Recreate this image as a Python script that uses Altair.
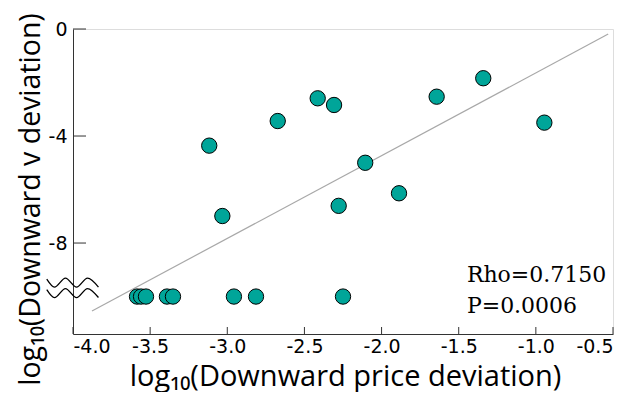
import altair as alt
import pandas as pd

# ---- data ----
x_vals = [-3.117, -2.673, -2.414, -2.308, -2.106, -2.278, -3.032, -1.341, -1.643, -0.945, -1.887,
          -3.585, -3.559, -3.527, -3.391, -3.352, -2.957, -2.814, -2.250]
y_vals = [-4.36, -3.44, -2.59, -2.84, -5.00, -6.61, -6.99, -1.84, -2.53, -3.50, -6.14,
          -10, -10, -10, -10, -10, -10, -10, -10]
fit_x = [-3.877, -0.531]
fit_y = [-10.54, -0.19]
x_ticks = [-4.0, -3.5, -3.0, -2.5, -2.0, -1.5, -1.0, -0.5]
y_ticks = [0, -4, -8]
stats = ["Rho=0.7150", "P=0.0006"]
# axis-break squiggle (decoration)
wave_x = [-4.170, -4.120, -4.049, -3.977, -3.906, -3.835]
wave_dy = [0.13, -0.168, 0.168, -0.168, 0.168, -0.168]
break_levels = [-9.477, -9.869]

pts = pd.DataFrame({"x": x_vals, "y": y_vals})
fit = pd.DataFrame({"x": fit_x, "y": fit_y})
xt = pd.DataFrame({"v": x_ticks})
yt = pd.DataFrame({"v": y_ticks})
wave = pd.DataFrame(
    [{"x": wx, "y": lvl + dy, "g": i} for i, lvl in enumerate(break_levels)
     for wx, dy in zip(wave_x, wave_dy)]
)

W, H = 540, 305
xs = alt.Scale(domain=[-4.0, -0.5], nice=False, zero=False)
ys = alt.Scale(domain=[-11.4, 0], nice=False, zero=False)

fix_minus = "replace(datum.label, '\u2212', '-')"

x_axis = alt.Axis(
    values=x_ticks, format=".1f", labelExpr=fix_minus,
    ticks=False, grid=False, domainColor="#333", domainWidth=1,
    labelFont="DejaVu Sans", labelFontSize=19, labelColor="black", labelPadding=3,
    title="log\u2081\u2080(Downward price deviation)",
    titleFont="Open Sans", titleFontSize=29, titleFontWeight="normal", titleColor="black",
    titleX=272, titleY=51, titleBaseline="alphabetic", titleAlign="center",
)
y_axis = alt.Axis(
    values=y_ticks, format="d", labelExpr=fix_minus,
    ticks=False, grid=False, domainColor="#333", domainWidth=1,
    labelFont="DejaVu Sans", labelFontSize=19, labelColor="black", labelPadding=6,
    title="log\u2081\u2080(Downward v deviation)",
    titleFont="Open Sans", titleFontSize=28.5, titleFontWeight="normal", titleColor="black",
    titleX=-43, titleY=170, titleAngle=-90, titleBaseline="middle", titleAlign="center",
)

base_pts = alt.Chart(pts).mark_circle(
    size=235, color="#00A599", opacity=1, stroke="black", strokeWidth=1
).encode(
    x=alt.X("x:Q", scale=xs, axis=x_axis),
    y=alt.Y("y:Q", scale=ys, axis=y_axis),
)

fit_line = alt.Chart(fit).mark_line(color="#A8A8A8", strokeWidth=1.2).encode(
    x=alt.X("x:Q", scale=xs), y=alt.Y("y:Q", scale=ys)
)

x_tick_marks = alt.Chart(xt).mark_rule(color="#333", strokeWidth=1).encode(
    x=alt.X("v:Q", scale=xs), y=alt.value(H - 7), y2=alt.value(H)
)
y_tick_marks = alt.Chart(yt).mark_rule(color="#333", strokeWidth=1).encode(
    y=alt.Y("v:Q", scale=ys), x=alt.value(0), x2=alt.value(13)
)

squiggle = alt.Chart(wave).mark_line(
    color="black", strokeWidth=1.3, interpolate="monotone", clip=False
).encode(
    x=alt.X("x:Q", scale=xs), y=alt.Y("y:Q", scale=ys), detail="g:N"
)

label = alt.Chart(pd.DataFrame({"t": [stats]})).mark_text(
    align="left", baseline="alphabetic", font="DejaVu Serif", fontSize=22,
    color="black", lineHeight=31
).encode(
    x=alt.datum(-1.447, scale=xs), y=alt.datum(-9.46, scale=ys), text="t"
)

chart = alt.layer(
    x_tick_marks, y_tick_marks, fit_line, squiggle, base_pts, label
).properties(
    width=W, height=H,
    autosize=alt.AutoSizeParams(type="none"),
    padding={"left": 65, "top": 21, "right": 10, "bottom": 58},
).configure_view(stroke=None).configure(background="white")

chart.save("out.html", embed_options={"renderer": "svg", "actions": False})
